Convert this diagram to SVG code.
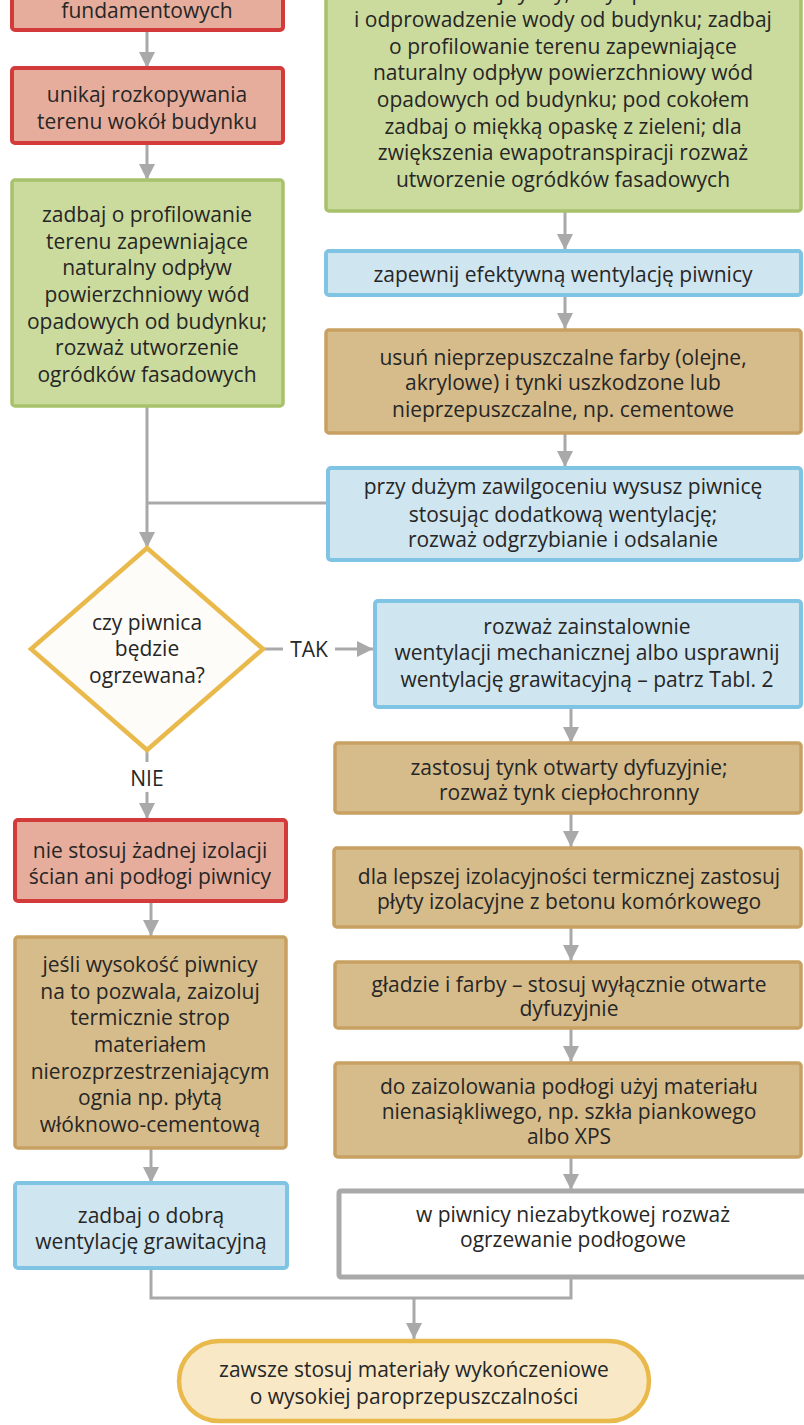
<svg xmlns="http://www.w3.org/2000/svg" width="804" height="1425" viewBox="0 0 804 1425">
  <defs>
    <style>
      text { font-family: "Open Sans", "Liberation Sans", sans-serif; font-size: 21px; fill: #262626; text-anchor: middle; }
      .red { fill: #e6ad9c; stroke: #d33a3a; stroke-width: 4; }
      .green { fill: #cbdb9d; stroke: #a7c26b; stroke-width: 3.5; }
      .blue { fill: #cfe5ef; stroke: #7fc4e2; stroke-width: 4; }
      .tan { fill: #d6bc8b; stroke: #c8a062; stroke-width: 3.5; }
      .plain { fill: #ffffff; stroke: #a9a9a9; stroke-width: 5; }
      .diamond { fill: #fdfcf8; stroke: #e9b94b; stroke-width: 4.5; }
      .term { fill: #f8e8c6; stroke: #e9b94b; stroke-width: 4.5; }
      .conn { fill: none; stroke: #a9a9a9; stroke-width: 3; }
    </style>
    <marker id="arrow" markerUnits="userSpaceOnUse" markerWidth="18" markerHeight="18" viewBox="0 0 18 18" refX="16" refY="9" orient="auto">
      <path d="M0,1 L16,9 L0,17 Z" fill="#a9a9a9"/>
    </marker>
  </defs>

  <!-- connectors -->
  <g id="connectors">
    <line class="conn" x1="147" y1="30" x2="147" y2="68" marker-end="url(#arrow)"/>
    <line class="conn" x1="147" y1="143" x2="147" y2="180" marker-end="url(#arrow)"/>
    <line class="conn" x1="147" y1="406" x2="147" y2="548" marker-end="url(#arrow)"/>
    <line class="conn" x1="147" y1="503" x2="327" y2="503"/>
    <line class="conn" x1="565" y1="211" x2="565" y2="250" marker-end="url(#arrow)"/>
    <line class="conn" x1="565" y1="295" x2="565" y2="329" marker-end="url(#arrow)"/>
    <line class="conn" x1="565" y1="433" x2="565" y2="467" marker-end="url(#arrow)"/>
    <line class="conn" x1="263" y1="649" x2="283" y2="649"/>
    <line class="conn" x1="335" y1="649" x2="373" y2="649" marker-end="url(#arrow)"/>
    <line class="conn" x1="147" y1="750" x2="147" y2="762"/>
    <line class="conn" x1="147" y1="792" x2="147" y2="819" marker-end="url(#arrow)"/>
    <line class="conn" x1="151" y1="901" x2="151" y2="936" marker-end="url(#arrow)"/>
    <line class="conn" x1="151" y1="1148" x2="151" y2="1183" marker-end="url(#arrow)"/>
    <line class="conn" x1="571" y1="707" x2="571" y2="743" marker-end="url(#arrow)"/>
    <line class="conn" x1="571" y1="813" x2="571" y2="847" marker-end="url(#arrow)"/>
    <line class="conn" x1="571" y1="927" x2="571" y2="961" marker-end="url(#arrow)"/>
    <line class="conn" x1="571" y1="1028" x2="571" y2="1062" marker-end="url(#arrow)"/>
    <line class="conn" x1="571" y1="1157" x2="571" y2="1190" marker-end="url(#arrow)"/>
    <polyline class="conn" points="151,1268 151,1298 571,1298 571,1278"/>
    <line class="conn" x1="414" y1="1298" x2="414" y2="1339" marker-end="url(#arrow)"/>
    <text x="309" y="657">TAK</text>
    <text x="147" y="786">NIE</text>
  </g>

  <!-- left column -->
  <g id="n-fundamenty">
    <rect class="red" x="12" y="-20" width="271" height="50" rx="3"/>
    <text x="147" y="18">fundamentowych</text>
  </g>
  <g id="n-rozkopywanie">
    <rect class="red" x="12" y="68" width="271" height="75" rx="3"/>
    <text x="147" y="102">unikaj rozkopywania</text>
    <text x="147" y="129">terenu wokół budynku</text>
  </g>
  <g id="n-profilowanie">
    <rect class="green" x="12" y="180" width="271" height="226" rx="3"/>
    <text x="147" y="222">zadbaj o profilowanie</text>
    <text x="147" y="249">terenu zapewniające</text>
    <text x="147" y="275">naturalny odpływ</text>
    <text x="147" y="302">powierzchniowy wód</text>
    <text x="147" y="329">opadowych od budynku;</text>
    <text x="147" y="355">rozważ utworzenie</text>
    <text x="147" y="382">ogródków fasadowych</text>
  </g>
  <g id="n-decyzja">
    <polygon class="diamond" points="147,548 263,649 147,750 31,649"/>
    <text x="147" y="630">czy piwnica</text>
    <text x="147" y="656">będzie</text>
    <text x="147" y="683">ogrzewana?</text>
  </g>
  <g id="n-bez-izolacji">
    <rect class="red" x="15" y="820" width="271" height="81" rx="3"/>
    <text x="150" y="858">nie stosuj żadnej izolacji</text>
    <text x="150" y="884">ścian ani podłogi piwnicy</text>
  </g>
  <g id="n-strop">
    <rect class="tan" x="15" y="937" width="271" height="211" rx="3"/>
    <text x="150" y="972">jeśli wysokość piwnicy</text>
    <text x="150" y="999">na to pozwala, zaizoluj</text>
    <text x="150" y="1025">termicznie strop</text>
    <text x="150" y="1052">materiałem</text>
    <text x="150" y="1079">nierozprzestrzeniającym</text>
    <text x="150" y="1105">ognia np. płytą</text>
    <text x="150" y="1132">włóknowo-cementową</text>
  </g>
  <g id="n-wentylacja-grawitacyjna">
    <rect class="blue" x="15" y="1183" width="272" height="85" rx="3"/>
    <text x="151" y="1223">zadbaj o dobrą</text>
    <text x="151" y="1249">wentylację grawitacyjną</text>
  </g>

  <!-- right column -->
  <g id="n-rynny">
    <rect class="green" x="326" y="-30" width="475" height="241" rx="3"/>
    <text x="563" y="0">uszczelnij rynny, rury spustowe</text>
    <text x="563" y="27">i odprowadzenie wody od budynku; zadbaj</text>
    <text x="563" y="54">o profilowanie terenu zapewniające</text>
    <text x="563" y="80">naturalny odpływ powierzchniowy wód</text>
    <text x="563" y="107">opadowych od budynku; pod cokołem</text>
    <text x="563" y="134">zadbaj o miękką opaskę z zieleni; dla</text>
    <text x="563" y="160">zwiększenia ewapotranspiracji rozważ</text>
    <text x="563" y="187">utworzenie ogródków fasadowych</text>
  </g>
  <g id="n-wentylacja">
    <rect class="blue" x="326" y="251" width="475" height="44" rx="3"/>
    <text x="563" y="282">zapewnij efektywną wentylację piwnicy</text>
  </g>
  <g id="n-farby">
    <rect class="tan" x="326" y="330" width="475" height="103" rx="3"/>
    <text x="563" y="365">usuń nieprzepuszczalne farby (olejne,</text>
    <text x="563" y="390">akrylowe) i tynki uszkodzone lub</text>
    <text x="563" y="417">nieprzepuszczalne, np. cementowe</text>
  </g>
  <g id="n-osuszanie">
    <rect class="blue" x="328" y="468" width="473" height="92" rx="3"/>
    <text x="563" y="494">przy dużym zawilgoceniu wysusz piwnicę</text>
    <text x="563" y="522">stosując dodatkową wentylację;</text>
    <text x="563" y="547">rozważ odgrzybianie i odsalanie</text>
  </g>
  <g id="n-wentylacja-mechaniczna">
    <rect class="blue" x="375" y="601" width="426" height="106" rx="3"/>
    <text x="587" y="634">rozważ zainstalownie</text>
    <text x="587" y="660">wentylacji mechanicznej albo usprawnij</text>
    <text x="587" y="687">wentylację grawitacyjną – patrz Tabl. 2</text>
  </g>
  <g id="n-tynk">
    <rect class="tan" x="335" y="743" width="466" height="70" rx="3"/>
    <text x="569" y="775">zastosuj tynk otwarty dyfuzyjnie;</text>
    <text x="569" y="800">rozważ tynk ciepłochronny</text>
  </g>
  <g id="n-plyty">
    <rect class="tan" x="334" y="848" width="467" height="79" rx="3"/>
    <text x="569" y="884">dla lepszej izolacyjności termicznej zastosuj</text>
    <text x="569" y="909">płyty izolacyjne z betonu komórkowego</text>
  </g>
  <g id="n-gladzie">
    <rect class="tan" x="335" y="962" width="466" height="66" rx="3"/>
    <text x="569" y="992">gładzie i farby – stosuj wyłącznie otwarte</text>
    <text x="569" y="1016">dyfuzyjnie</text>
  </g>
  <g id="n-podloga">
    <rect class="tan" x="335" y="1063" width="466" height="94" rx="3"/>
    <text x="569" y="1094">do zaizolowania podłogi użyj materiału</text>
    <text x="569" y="1119">nienasiąkliwego, np. szkła piankowego</text>
    <text x="569" y="1144">albo XPS</text>
  </g>
  <g id="n-ogrzewanie">
    <rect class="plain" x="339" y="1191" width="470" height="86" rx="2"/>
    <text x="573" y="1222">w piwnicy niezabytkowej rozważ</text>
    <text x="573" y="1247">ogrzewanie podłogowe</text>
  </g>

  <!-- terminal -->
  <g id="n-materialy">
    <rect class="term" x="179" y="1341" width="470" height="80" rx="40"/>
    <text x="414" y="1377">zawsze stosuj materiały wykończeniowe</text>
    <text x="414" y="1404">o wysokiej paroprzepuszczalności</text>
  </g>
</svg>
